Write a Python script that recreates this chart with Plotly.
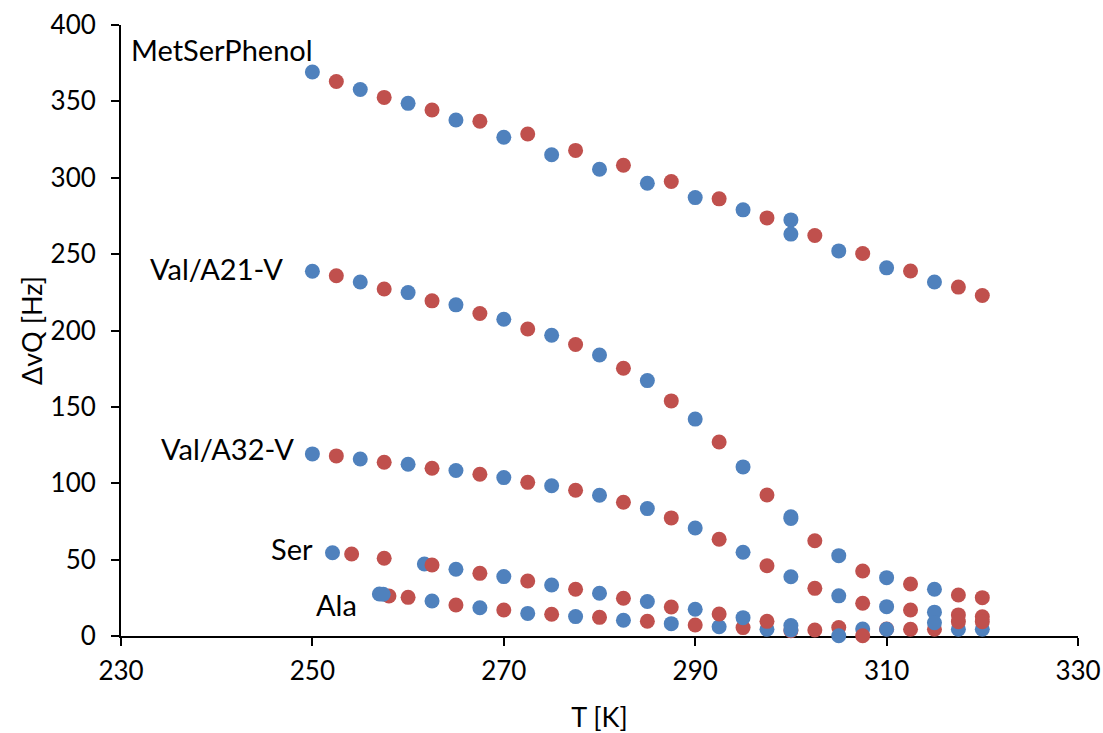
import plotly.graph_objects as go

BLUE = "#4F81BD"
RED = "#C0504D"

# MetSerPhenol
metser_blue_T = [250, 255, 260, 265, 270, 275, 280, 285, 290, 295, 300, 300, 305, 310, 315]
metser_blue_v = [369.2, 357.8, 348.7, 337.8, 326.5, 315.1, 305.6, 296.4, 287.0, 279.0, 272.4, 263.1, 252.1, 241.0, 231.8]
metser_red_T = [252.5, 257.5, 262.5, 267.5, 272.5, 277.5, 282.5, 287.5, 292.5, 297.5, 302.5, 307.5, 312.5, 317.5, 320]
metser_red_v = [363.0, 352.6, 344.4, 337.0, 328.6, 317.9, 308.2, 297.5, 286.2, 273.7, 262.2, 250.4, 239.0, 228.4, 222.9]

# Val/A21-V
a21_blue_T = [250, 255, 260, 265, 270, 275, 280, 285, 290, 295, 300, 300, 305, 310, 315]
a21_blue_v = [238.8, 231.8, 224.8, 216.8, 207.4, 196.9, 184.0, 167.2, 142.0, 110.7, 78.0, 77.0, 52.6, 38.2, 30.6]
a21_red_T = [252.5, 257.5, 262.5, 267.5, 272.5, 277.5, 282.5, 287.5, 292.5, 297.5, 302.5, 307.5, 312.5, 317.5, 320]
a21_red_v = [235.8, 227.2, 219.4, 211.1, 201.0, 190.8, 175.3, 153.9, 127.0, 92.3, 62.4, 42.6, 34.0, 26.8, 25.1]

# Val/A32-V
a32_blue_T = [250, 255, 260, 265, 270, 275, 280, 285, 290, 295, 300, 305, 310, 315]
a32_blue_v = [119.2, 115.9, 112.4, 108.3, 103.7, 98.4, 92.1, 83.4, 70.7, 54.8, 38.8, 26.3, 19.2, 15.6]
a32_red_T = [252.5, 257.5, 262.5, 267.5, 272.5, 277.5, 282.5, 287.5, 292.5, 297.5, 302.5, 307.5, 312.5, 317.5, 320]
a32_red_v = [117.9, 113.7, 109.8, 105.9, 100.6, 95.4, 87.6, 77.3, 63.3, 46.0, 31.2, 21.4, 17.0, 13.8, 12.6]

# Ala
ala_red_T = [258.0, 260, 265, 270, 275, 280, 285, 290, 295, 300, 305, 310, 315]
ala_red_v = [26.2, 25.3, 20.3, 17.0, 14.2, 12.2, 9.7, 7.2, 5.5, 3.5, 5.5, 4.6, 4.4]
ala_blue_T = [257.0, 257.4, 262.5, 267.5, 272.5, 277.5, 282.5, 287.5, 292.5, 297.5, 300, 307.5, 317.5, 320]
ala_blue_v = [27.5, 27.3, 22.9, 18.5, 14.8, 12.7, 10.3, 8.1, 6.1, 4.4, 3.9, 4.6, 4.4, 4.4]

# Ser
ser_blue_T = [252.1, 261.7, 265, 270, 275, 280, 285, 290, 295, 300, 305, 310, 315]
ser_blue_v = [54.5, 47.1, 43.7, 38.9, 33.4, 28.0, 22.6, 17.5, 12.0, 6.8, 0.2, 4.4, 8.7]
ser_red_T = [254.1, 257.5, 262.5, 267.5, 272.5, 277.5, 282.5, 287.5, 292.5, 297.5, 302.5, 307.5, 312.5, 317.5, 320]
ser_red_v = [53.7, 50.9, 46.5, 41.0, 36.0, 30.6, 24.7, 19.0, 14.4, 9.6, 3.9, 0.2, 4.4, 9.4, 9.4]

# labels: (text, T, v)
label_text = ["MetSerPhenol", "Val/A21-V", "Val/A32-V", "Ser", "Ala"]
label_T = [240.6, 240.0, 241.1, 247.9, 252.5]
label_v = [383.8, 240.3, 122.5, 57.6, 20.3]

x_ticks = [230, 250, 270, 290, 310, 330]
y_ticks = [0, 50, 100, 150, 200, 250, 300, 350, 400]

FONT = "Lato, Carlito, Calibri, sans-serif"

traces = [
    (metser_blue_T, metser_blue_v, BLUE),
    (metser_red_T, metser_red_v, RED),
    (a21_blue_T, a21_blue_v, BLUE),
    (a21_red_T, a21_red_v, RED),
    (a32_blue_T, a32_blue_v, BLUE),
    (a32_red_T, a32_red_v, RED),
    (ala_red_T, ala_red_v, RED),
    (ala_blue_T, ala_blue_v, BLUE),
    (ser_blue_T, ser_blue_v, BLUE),
    (ser_red_T, ser_red_v, RED),
]

fig = go.Figure()
for xs, ys, c in traces:
    fig.add_trace(go.Scatter(
        x=xs, y=ys, mode="markers",
        marker=dict(color=c, size=15, line=dict(width=0)),
        cliponaxis=False, showlegend=False, hoverinfo="x+y",
    ))

for t, x, y in zip(label_text, label_T, label_v):
    fig.add_annotation(x=x, y=y, xref="x", yref="y", text=t, showarrow=False,
                       font=dict(family=FONT, size=29, color="black"),
                       xanchor="center", yanchor="middle")

fig.update_layout(
    width=1103, height=733,
    margin=dict(l=121, r=25, t=25, b=97, autoexpand=False),
    paper_bgcolor="white", plot_bgcolor="white",
    font=dict(family=FONT, size=26, color="black"),
    showlegend=False,
)
fig.update_xaxes(
    range=[230, 330], tickvals=x_ticks, ticktext=[str(v) for v in x_ticks],
    showgrid=False, zeroline=False, showline=True, linecolor="black", linewidth=2,
    ticks="outside", ticklen=8, tickwidth=2, tickcolor="black",
    ticklabelstandoff=3, ticklabeloverflow="allow",
    title=dict(text="T [K]", standoff=23, font=dict(size=27)),
    tickfont=dict(size=26), layer="below traces",
)
fig.update_yaxes(
    range=[0, 400], tickvals=y_ticks, ticktext=[str(v) for v in y_ticks],
    showgrid=False, zeroline=False, showline=True, linecolor="black", linewidth=2,
    ticks="outside", ticklen=8, tickwidth=2, tickcolor="black",
    ticklabelstandoff=10, ticklabeloverflow="allow",
    title=dict(text="ΔvQ [Hz]", standoff=0, font=dict(size=27)),
    tickfont=dict(size=26), layer="below traces",
)

fig.write_html(
    "out.html",
    config={"displayModeBar": False},
    post_script="document.body.style.margin='0';document.body.style.overflow='hidden';",
)
